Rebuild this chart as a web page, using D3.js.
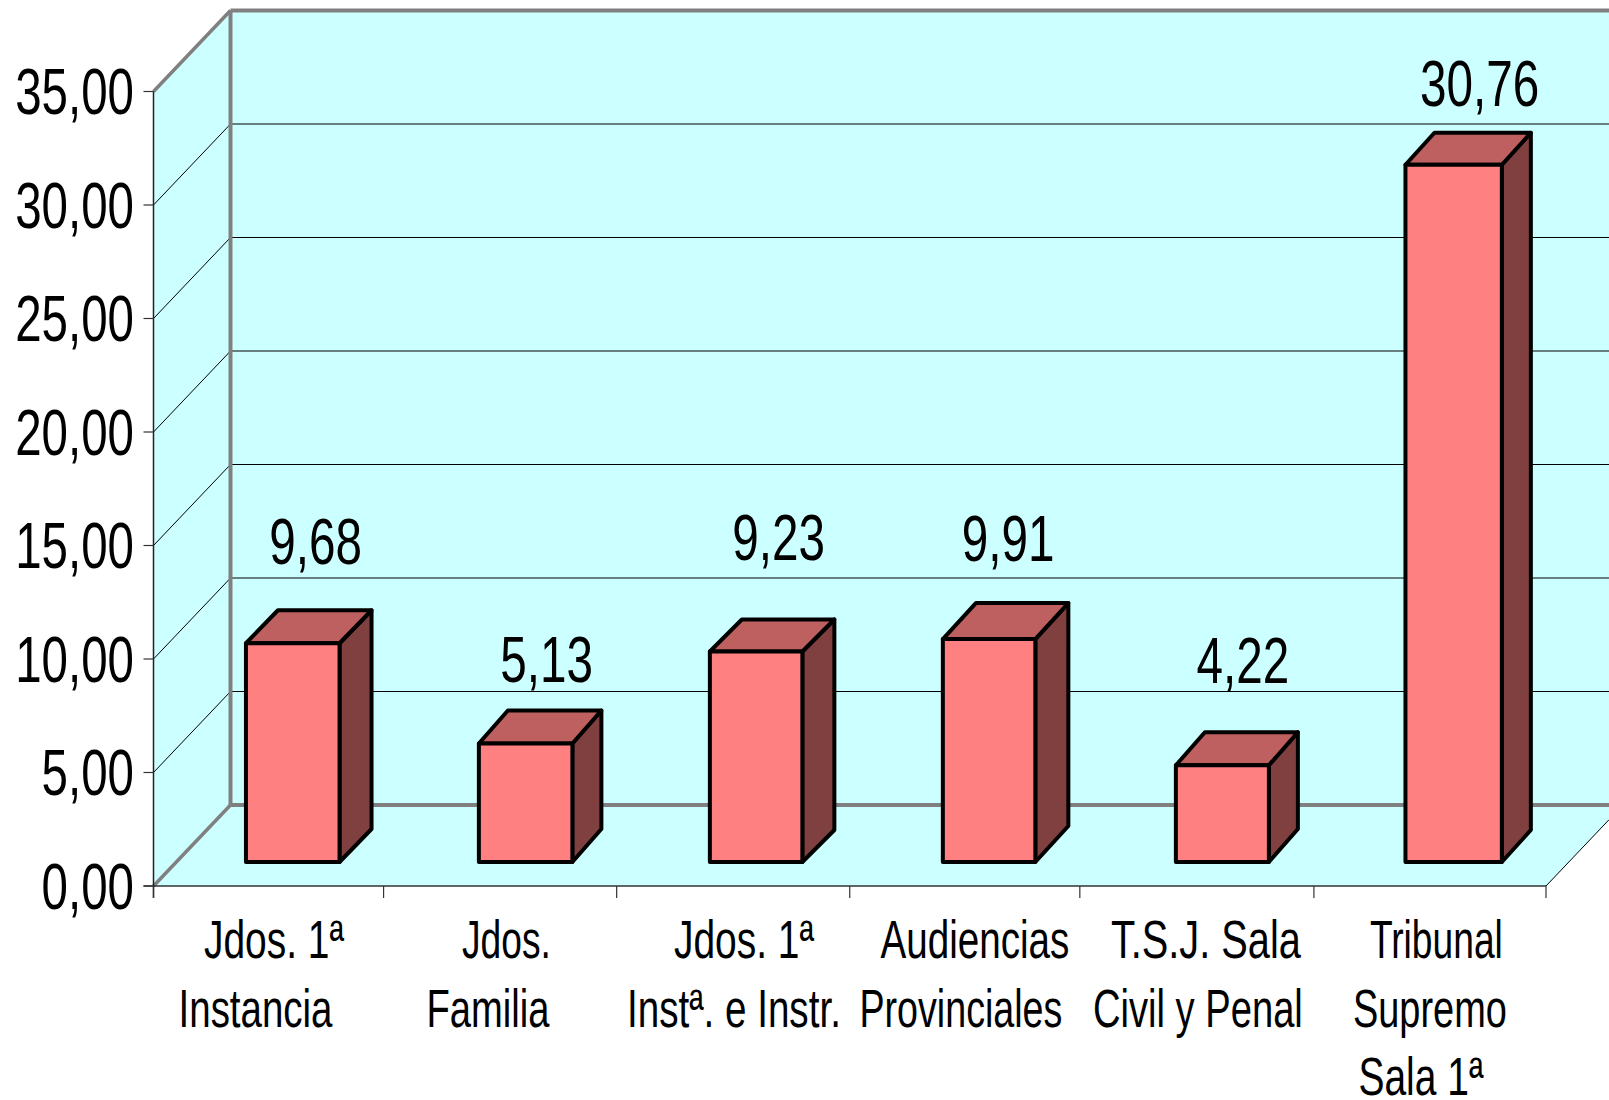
<!DOCTYPE html>
<html><head><meta charset="utf-8">
<style>html,body{margin:0;padding:0;background:#fff}svg{display:block}text{font-family:"Liberation Sans",Arial,sans-serif;fill:#000}</style>
<script src="https://cdn.jsdelivr.net/npm/d3@7"></script></head>
<body><svg id="c" width="1609" height="1100"></svg>
<script>
const categories = [["Jdos. 1ª","Instancia"],["Jdos.","Familia"],["Jdos. 1ª","Instª. e Instr."],["Audiencias","Provinciales"],["T.S.J. Sala","Civil y Penal"],["Tribunal","Supremo","Sala 1ª"]];
const values = [9.68,5.13,9.23,9.91,4.22,30.76];
const valueLabels = ["9,68","5,13","9,23","9,91","4,22","30,76"];
const yTicks = [0,5,10,15,20,25,30,35];
// layout adjustments, separate from the data
const catLineDx = [[4.4,-14],[4.8,-13.7],[10.2,0.2],[9.1,-4.9],[8,0],[6.4,-0.1,-9.1]];
const catLineW = [[140,154],[89,123],[140,214],[189,203],[190,210],[133,154,125]];
const labelDy = [79,62,91,78,82,59];
const labelDx = [23,21,22.5,19,20.5,26];
const barDx = [-0.8,0,-1.6,-0.7,0.5,-0.3];
const barWs = [93.6,93.5,92.5,92.5,93,96.4];
const topNudge = [1,-2,-1,2,-1,1];
const depthDx = [32,29,32,33,29,29];
const depthDy = [33,33,32,36,33,32];
const xTickDx = [0,-2,-1,0,-2,0,0];

const svg = d3.select("#c");
const x = d3.scaleBand().domain(d3.range(6)).range([153.5,1546]).paddingInner(0).paddingOuter(0);
const y = d3.scaleLinear().domain([0,35]).range([886,91.5]);
const wall = {dx:77, dy:-81}, front = {dx:24, dy:-24};
const right = 1609;
const num = d3.format(".2f");
const es = v => num(v).replace(".",",");
const pts = a => a.map(p=>p.join(",")).join(" ");

const x0=x.range()[0], x1=x.range()[1], y0=y(0), yT=y(35);
const bx=x0+wall.dx;
const floorRightY = y0+(right-x1)*wall.dy/wall.dx;
// walls
svg.append("polygon").attr("points",pts([[bx,yT+wall.dy],[right,yT+wall.dy],[right,y0+wall.dy],[bx,y0+wall.dy]])).attr("fill","#CCFFFF");
svg.append("polygon").attr("points",pts([[x0,yT],[bx,yT+wall.dy],[bx,y0+wall.dy],[x0,y0]])).attr("fill","#CCFFFF");
svg.append("polygon").attr("points",pts([[x0,y0],[bx,y0+wall.dy],[right,y0+wall.dy],[right,floorRightY],[x1,y0]])).attr("fill","#CCFFFF");
// gridlines
yTicks.slice(1,-1).forEach(t=>{
  svg.append("line").attr("x1",bx).attr("x2",right).attr("y1",y(t)+wall.dy).attr("y2",y(t)+wall.dy).attr("stroke","#000").attr("stroke-width",1);
  svg.append("line").attr("x1",x0).attr("x2",bx).attr("y1",y(t)).attr("y2",y(t)+wall.dy).attr("stroke","#000").attr("stroke-width",1);
});
// grey edges
const grey=(a,b,c,d,w)=>svg.append("line").attr("x1",a).attr("y1",b).attr("x2",c).attr("y2",d).attr("stroke","#808080").attr("stroke-width",w);
grey(bx,yT+wall.dy,right,yT+wall.dy,4);
grey(bx,yT+wall.dy,bx,y0+wall.dy,4);
grey(bx,y0+wall.dy,right,y0+wall.dy,4);
grey(x0,yT,bx,yT+wall.dy,3.5);
grey(x0,y0,bx,y0+wall.dy,3.5);
// floor front edge
svg.append("line").attr("x1",x1).attr("y1",y0).attr("x2",right).attr("y2",floorRightY).attr("stroke","#000").attr("stroke-width",1);
svg.append("line").attr("x1",x0-10).attr("y1",y0).attr("x2",x1).attr("y2",y0).attr("stroke","#333").attr("stroke-width",1.5);
svg.append("line").attr("x1",x0).attr("y1",yT).attr("x2",x0).attr("y2",y0+12).attr("stroke","#222").attr("stroke-width",1.5);
// ticks
yTicks.forEach(t=>svg.append("line").attr("x1",x0-10).attr("x2",x0).attr("y1",y(t)).attr("y2",y(t)).attr("stroke","#333").attr("stroke-width",1.2));
d3.range(7).forEach(i=>{const tx=x0+i*x.step()+xTickDx[i];svg.append("line").attr("x1",tx).attr("x2",tx).attr("y1",y0).attr("y2",y0+12).attr("stroke","#333").attr("stroke-width",1.2);});
// bars
const g=svg.append("g").selectAll("g").data(values).join("g");
g.each(function(v,i){
  const s=d3.select(this);
  const c=x(i)+x.bandwidth()/2+front.dx+barDx[i];
  const w=barWs[i],dx=depthDx[i],dy=-depthDy[i];
  const l=c-w/2,r=c+w/2,b=y0+front.dy,t=y(v)+front.dy+topNudge[i];
  const st=sel=>sel.attr("stroke","#000").attr("stroke-width",4).attr("stroke-linejoin","round");
  st(s.append("polygon").attr("points",pts([[r,t],[r+dx,t+dy],[r+dx,b+dy],[r,b]])).attr("fill","#804040"));
  st(s.append("polygon").attr("points",pts([[l,t],[l+dx,t+dy],[r+dx,t+dy],[r,t]])).attr("fill","#BF6060"));
  st(s.append("rect").attr("x",l).attr("y",t).attr("width",w).attr("height",b-t).attr("fill","#FF8080"));
  const lx=c+labelDx[i], ly=t-labelDy[i];
  s.append("text").attr("transform",`translate(${lx},${ly}) scale(0.745,1)`).attr("text-anchor","middle").attr("font-size",64).text(valueLabels[i]);
});
// y labels
yTicks.forEach(t=>svg.append("text").attr("transform",`translate(134,${y(t)+22.5}) scale(0.742,1)`).attr("text-anchor","end").attr("font-size",64).text(es(t)));
// category labels
categories.forEach((lines,i)=>lines.forEach((ln,j)=>{
  const c=x(i)+x.bandwidth()/2+catLineDx[i][j];
  const tx=svg.append("text").attr("text-anchor","middle").attr("font-size",53).text(ln);
  const k=catLineW[i][j]/tx.node().getComputedTextLength();
  tx.attr("transform",`translate(${c},${958+j*68.5}) scale(${k},1)`);
}));
</script></body></html>
